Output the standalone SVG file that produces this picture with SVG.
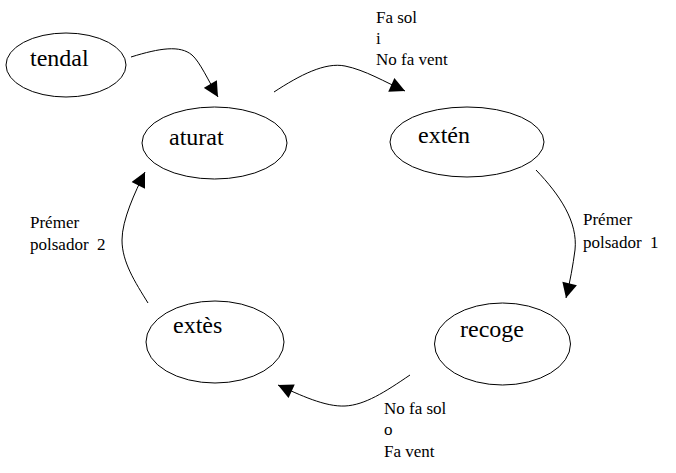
<svg xmlns="http://www.w3.org/2000/svg" width="676" height="473" viewBox="0 0 676 473">
<defs>
<style>
.node ellipse{fill:#fff;stroke:#000;stroke-width:1}
.node text{font-size:24px;fill:#000}
.lbl{font-size:17px;fill:#000;white-space:pre}
.edge{fill:none;stroke:#000;stroke-width:1;marker-end:url(#arr)}
</style>
<marker id="arr" viewBox="0 0 10 10" refX="10" refY="5" markerWidth="16" markerHeight="15" markerUnits="userSpaceOnUse" orient="auto">
<path d="M0,0 L10,5 L0,10 Z" fill="#000"/>
</marker>
</defs>
<rect width="676" height="473" fill="#fff"/>
<g id="connectors">
<path class="edge" d="M131,57 C160,48 180,45 192,55 C200,62 208,80 218,97"/>
<path class="edge" d="M274,92 C300,75 325,62 345,66 C365,70 385,82 405,91"/>
<path class="edge" d="M536,170 C560,195 578,222 575,250 C573,265 570,282 566,298"/>
<path class="edge" d="M410,375 C385,392 365,405 345,406 C325,407 300,395 278,385"/>
<path class="edge" d="M148,303 C135,282 122,262 122,240 C122,220 135,192 145,172"/>
</g>
<g font-family="Liberation Serif, Times New Roman, serif">
<g id="tendal" class="node"><ellipse cx="66" cy="65" rx="60" ry="32"/><text x="30" y="66">tendal</text></g>
<g id="aturat" class="node"><ellipse cx="214.5" cy="143" rx="72.5" ry="36"/><text x="169" y="145">aturat</text></g>
<g id="exten" class="node"><ellipse cx="467" cy="142" rx="77" ry="35"/><text x="418" y="143">extén</text></g>
<g id="recoge" class="node"><ellipse cx="502.5" cy="344" rx="68" ry="41"/><text x="460" y="337">recoge</text></g>
<g id="extes" class="node"><ellipse cx="215" cy="342" rx="69" ry="41"/><text x="173" y="333">extès</text></g>
<g id="labels">
<text class="lbl" x="376" y="23">Fa sol</text>
<text class="lbl" x="376" y="44">i</text>
<text class="lbl" x="376" y="65">No fa vent</text>
<text class="lbl" x="583" y="225">Prémer</text>
<text class="lbl" x="583" y="248" xml:space="preserve">polsador  1</text>
<text class="lbl" x="30" y="228">Prémer</text>
<text class="lbl" x="30" y="250" xml:space="preserve">polsador  2</text>
<text class="lbl" x="384" y="414">No fa sol</text>
<text class="lbl" x="384" y="435">o</text>
<text class="lbl" x="384" y="457">Fa vent</text>
</g>
</g>
</svg>
